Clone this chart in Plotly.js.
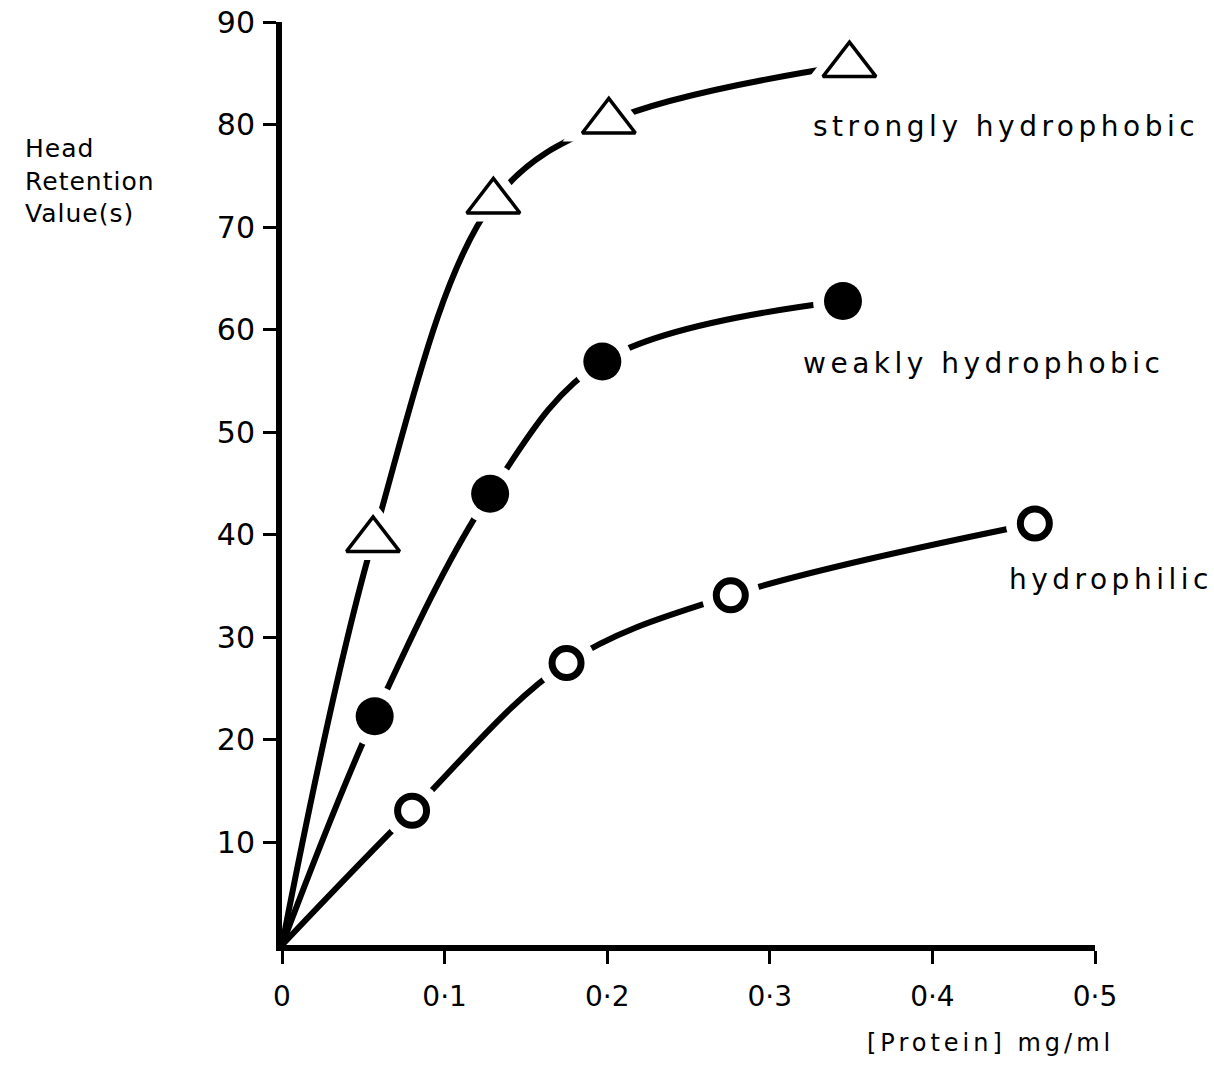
<!DOCTYPE html>
<html>
<head>
<meta charset="utf-8">
<script src="https://cdn.plot.ly/plotly-3.0.1.min.js"></script>
<style>
  html, body { margin: 0; padding: 0; background: #fff; }
  #chart { width: 1214px; height: 1070px; }
  g.annotation[data-index="0"] text, g.annotation[data-index="1"] text, g.annotation[data-index="2"] text { letter-spacing: 4.5px; }
  g.annotation[data-index="3"] text { letter-spacing: 1px; }
  g.annotation[data-index="4"] text { letter-spacing: 4px; }
</style>
</head>
<body>
<div id="chart"></div>
<script>
// Data: [Protein] (mg/ml) vs Head Retention Value (s)
var strongX = [0.056, 0.130, 0.201, 0.349];
var strongY = [39.5, 72.5, 80.3, 85.8];
var weakX = [0.057, 0.128, 0.197, 0.345];
var weakY = [22.3, 44.0, 56.9, 62.8];
var philX = [0.080, 0.175, 0.276, 0.463];
var philY = [13.1, 27.5, 34.1, 41.1];
var seriesNames = ["strongly hydrophobic", "weakly hydrophobic", "hydrophilic"];
var xTickVals = [0, 0.1, 0.2, 0.3, 0.4, 0.5];
var xTickText = ["0", "0·1", "0·2", "0·3", "0·4", "0·5"];
var yTickVals = [10, 20, 30, 40, 50, 60, 70, 80, 90];
var yTickText = ["10", "20", "30", "40", "50", "60", "70", "80", "90"];

var FONT = "DejaVu Sans, Liberation Sans, sans-serif";
var series = [
  {x: strongX, y: strongY, symbol: "triangle-up", size: 46, fill: "#ffffff", lw: 3.5, mask: 80},
  {x: weakX, y: weakY, symbol: "circle", size: 38, fill: "#000000", lw: 0, mask: 60},
  {x: philX, y: philY, symbol: "circle", size: 29, fill: "#ffffff", lw: 7, mask: 58}
];

var traces = [];
series.forEach(function (s, i) {
  traces.push({
    x: [0].concat(s.x), y: [0].concat(s.y), mode: "lines", name: seriesNames[i],
    line: {color: "#000", width: 6, shape: "spline", smoothing: 1},
    hoverinfo: "skip", showlegend: false
  });
});
series.forEach(function (s, i) {
  traces.push({
    x: s.x, y: s.y, mode: "markers", hoverinfo: "skip", showlegend: false,
    marker: {symbol: s.symbol, size: s.mask, color: "rgb(255,255,255)", opacity: 1, line: {width: 0, color: "rgb(255,255,255)"}}
  });
});
series.forEach(function (s, i) {
  traces.push({
    x: s.x, y: s.y, mode: "markers", name: seriesNames[i], showlegend: false,
    marker: {symbol: s.symbol, size: s.size, color: s.fill, line: {color: "#000", width: s.lw}}
  });
});

var layout = {
  width: 1214, height: 1070,
  margin: {l: 282, r: 119, t: 22, b: 125},
  paper_bgcolor: "#fff", plot_bgcolor: "#fff",
  showlegend: false,
  font: {family: FONT, color: "#000", size: 29},
  xaxis: {
    range: [0, 0.5], showgrid: false, zeroline: false,
    showline: true, linecolor: "#000", linewidth: 6,
    ticks: "outside", ticklen: 13, tickwidth: 3, tickcolor: "#000",
    tickvals: xTickVals, ticktext: xTickText, ticklabelstandoff: 8,
    tickfont: {family: FONT, size: 28, color: "#000"}
  },
  yaxis: {
    range: [0, 90], showgrid: false, zeroline: false,
    showline: true, linecolor: "#000", linewidth: 6,
    ticks: "outside", ticklen: 13, tickwidth: 3, tickcolor: "#000",
    tickvals: yTickVals, ticktext: yTickText, ticklabelstandoff: 2,
    tickfont: {family: FONT, size: 30, color: "#000"}
  },
  annotations: [
    {text: seriesNames[0], xref: "x", yref: "y", x: 0.3254, y: 79.8, xanchor: "left", yanchor: "middle", align: "left", showarrow: false, font: {family: FONT, size: 28, color: "#000"}},
    {text: seriesNames[1], xref: "x", yref: "y", x: 0.319, y: 56.7, xanchor: "left", yanchor: "middle", align: "left", showarrow: false, font: {family: FONT, size: 28, color: "#000"}},
    {text: seriesNames[2], xref: "x", yref: "y", x: 0.446, y: 35.6, xanchor: "left", yanchor: "middle", align: "left", showarrow: false, font: {family: FONT, size: 28, color: "#000"}},
    {text: "Head<br>Retention<br>Value(s)", xref: "paper", yref: "paper", x: -0.318, y: 0.828, xanchor: "left", yanchor: "middle", align: "left", showarrow: false, font: {family: FONT, size: 25, color: "#000"}},
    {text: "[Protein] mg/ml", xref: "paper", yref: "paper", x: 0.717, y: -0.106, xanchor: "left", yanchor: "middle", align: "left", showarrow: false, font: {family: FONT, size: 24, color: "#000"}}
  ]
};

Plotly.newPlot("chart", traces, layout, {displayModeBar: false, staticPlot: true});
</script>
</body>
</html>
